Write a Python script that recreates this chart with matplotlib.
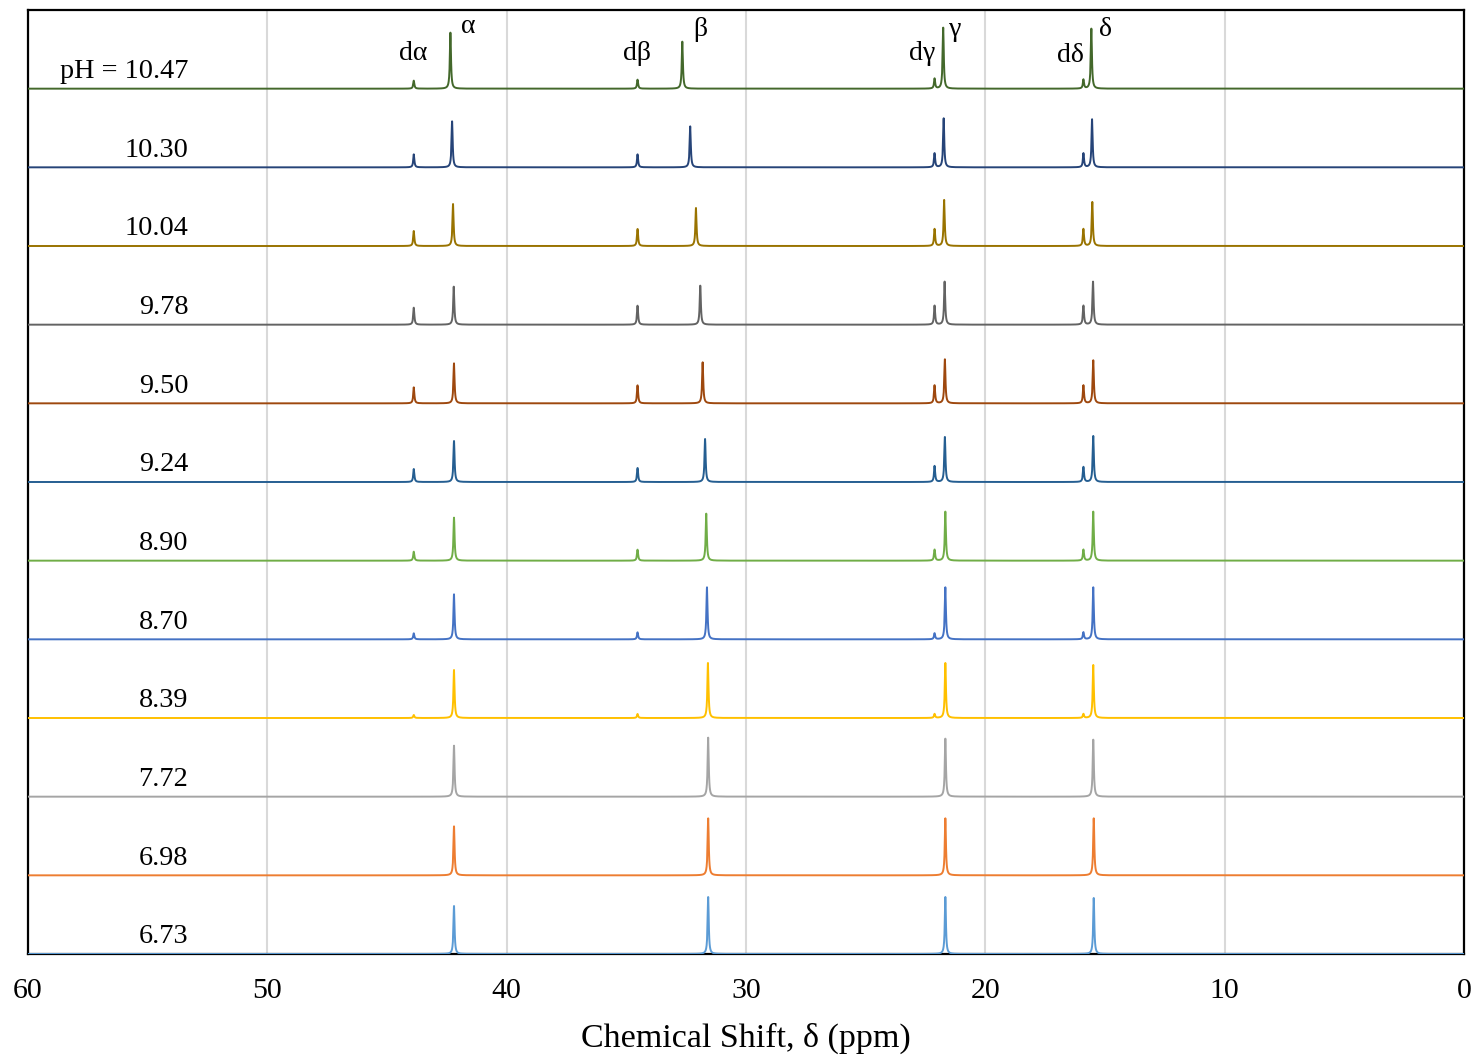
import numpy as np
import matplotlib
matplotlib.use("Agg")
import matplotlib.pyplot as plt

plt.rcParams['font.family'] = ['Liberation Serif', 'DejaVu Serif']

# ---- data (top trace to bottom trace) ----
ph_labels = ["pH = 10.47", "10.30", "10.04", "9.78", "9.50", "9.24",
             "8.90", "8.70", "8.39", "7.72", "6.98", "6.73"]
colors = ["#43682B", "#264478", "#997300", "#636363", "#9E480E", "#255E91",
          "#70AD47", "#4472C4", "#FFC000", "#A5A5A5", "#ED7D31", "#5B9BD5"]

alpha_ppm = [42.35, 42.28, 42.24, 42.21, 42.20, 42.20, 42.20, 42.20, 42.20, 42.20, 42.20, 42.20]
alpha_h = [56, 46, 42, 38, 40, 41, 43, 45, 48, 51, 49, 48]
beta_ppm = [32.66, 32.33, 32.09, 31.91, 31.81, 31.71, 31.66, 31.63, 31.59, 31.58, 31.58, 31.58]
beta_h = [47, 41, 38, 39, 41, 43, 47, 52, 55, 59, 57, 57]
gamma_ppm = [21.76, 21.74, 21.72, 21.70, 21.69, 21.69, 21.67, 21.67, 21.67, 21.67, 21.67, 21.67]
gamma_h = [61, 49, 46, 43, 44, 45, 49, 52, 55, 58, 57, 57]
delta_ppm = [15.57, 15.54, 15.53, 15.50, 15.49, 15.49, 15.49, 15.49, 15.49, 15.49, 15.47, 15.47]
delta_h = [60, 48, 44, 43, 43, 46, 49, 52, 53, 57, 57, 56]
dalpha_ppm = [43.88] * 12
dalpha_h = [8, 13, 15, 17, 16, 13, 9, 6, 3, 0, 0, 0]
dbeta_ppm = [34.53] * 12
dbeta_h = [9, 13, 17, 19, 18, 14, 11, 7, 4, 0, 0, 0]
dgamma_ppm = [22.12] * 12
dgamma_h = [10, 14, 17, 19, 18, 16, 11, 6, 4, 0, 0, 0]
ddelta_ppm = [15.90] * 12
ddelta_h = [9, 14, 17, 19, 18, 15, 11, 7, 4, 0, 0, 0]

xticks = [60, 50, 40, 30, 20, 10, 0]

# ---- drawing ----
step = 78.65          # vertical offset between stacked spectra
hw = 0.028            # Lorentzian half width (ppm)
x = np.linspace(0, 60, 30001)

fig = plt.figure(figsize=(14.75, 10.6), dpi=100)
ax = fig.add_axes([28 / 1475, 1 - 954 / 1060, (1464 - 28) / 1475, (954 - 10) / 1060])

n = len(ph_labels)
peak_sets = [(alpha_ppm, alpha_h), (beta_ppm, beta_h), (gamma_ppm, gamma_h),
             (delta_ppm, delta_h), (dalpha_ppm, dalpha_h), (dbeta_ppm, dbeta_h),
             (dgamma_ppm, dgamma_h), (ddelta_ppm, ddelta_h)]
for i in range(n):
    base = (n - 1 - i) * step
    y = np.zeros_like(x)
    for pos, h in peak_sets:
        y += h[i] * hw**2 / ((x - pos[i])**2 + hw**2)
    ax.plot(x, y + base, color=colors[i], lw=1.4, zorder=3)
    ax.text(53.3, base + 17, ph_labels[i], ha='right', va='center', fontsize=20.3)

# peak annotations
ann = [("dα", 43.91, 900), ("α", 41.62, 927), ("dβ", 34.55, 900), ("β", 31.92, 924),
       ("dγ", 22.65, 900), ("γ", 21.27, 924), ("dδ", 16.46, 898), ("δ", 15.0, 924)]
for t, xp, yp in ann:
    ax.text(xp, yp, t, ha='center', va='center', fontsize=20)

ax.set_xlim(60, 0)
ax.set_ylim(0, 12 * step)
ax.set_xticks(xticks)
ax.set_xticklabels([str(v) for v in xticks], fontsize=21.5)
ax.set_yticks([])
ax.tick_params(axis='x', length=0, pad=17)
ax.grid(axis='x', color='#D9D9D9', lw=1.5, zorder=0)
for s in ax.spines.values():
    s.set_color('black')
    s.set_linewidth(1.6)
ax.set_xlabel("Chemical Shift, δ (ppm)", fontsize=24.5, labelpad=14)

fig.savefig("out.png", dpi=100)
